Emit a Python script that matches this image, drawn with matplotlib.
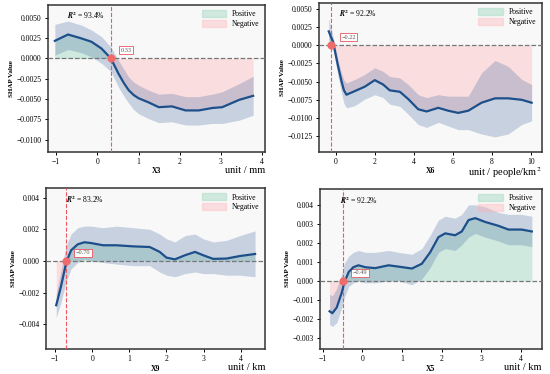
import numpy as np
import matplotlib
matplotlib.use("Agg")
import matplotlib.pyplot as plt
from matplotlib.patches import Patch

plt.rcParams['font.family'] = ['Liberation Serif', 'DejaVu Serif']
plt.rcParams['mathtext.fontset'] = 'stix'

# ---- data (x, mean SHAP, upper / lower band) ----
x3_x = [-1.03, -0.71, -0.38, -0.14, 0.10, 0.33, 0.51, 0.64, 0.76, 0.88, 1.00, 1.24, 1.49,
        1.81, 2.14, 2.46, 2.79, 3.03, 3.44, 3.78]
x3_mean = [0.00217, 0.00295, 0.00246, 0.00205, 0.00123, 0.0, -0.00184, -0.0030, -0.0039,
           -0.0045, -0.0049, -0.0054, -0.0060, -0.0059, -0.0064, -0.0064, -0.0061, -0.0060,
           -0.0051, -0.0046]
x3_up = [0.0042, 0.0046, 0.0041, 0.0035, 0.0027, 0.0014, -0.0002, -0.0013, -0.0023,
         -0.0029, -0.0033, -0.0039, -0.0044, -0.0043, -0.0047, -0.0047, -0.0044, -0.0041,
         -0.0031, -0.0022]
x3_lo = [0.0004, 0.0011, 0.0007, 0.0002, -0.0006, -0.0016, -0.0035, -0.0046, -0.0055,
         -0.0063, -0.0068, -0.0074, -0.0079, -0.0078, -0.0082, -0.0082, -0.0080, -0.0080,
         -0.0076, -0.0070]

x6_x = [-0.36, -0.14, 0.12, 0.29, 0.42, 0.55, 0.98, 1.49, 2.00, 2.43, 2.77, 3.29, 3.72,
        4.23, 4.66, 5.26, 5.77, 6.28, 6.80, 7.48, 8.17, 8.85, 9.54, 10.05]
x6_mean = [0.0019, 0.00046, -0.0029, -0.0049, -0.0062, -0.0068, -0.0063, -0.0057, -0.0048,
           -0.0054, -0.0062, -0.0064, -0.0074, -0.0088, -0.0091, -0.0086, -0.0090,
           -0.0093, -0.0090, -0.0079, -0.0073, -0.0073, -0.0075, -0.0079]
x6_up = [0.0037, 0.0012, -0.0020, -0.0038, -0.0048, -0.0052, -0.0047, -0.0040, -0.0031,
         -0.0036, -0.0043, -0.0045, -0.0054, -0.0068, -0.0072, -0.0068, -0.0070, -0.0070,
         -0.0070, -0.0038, -0.0021, -0.0029, -0.0047, -0.0054]
x6_lo = [0.0008, -0.0004, -0.0043, -0.0065, -0.0080, -0.0086, -0.0083, -0.0074, -0.0068,
         -0.0072, -0.0081, -0.0084, -0.0095, -0.0109, -0.0113, -0.0106, -0.0111, -0.0116,
         -0.0116, -0.0122, -0.0126, -0.0122, -0.0109, -0.0104]

x9_x = [-0.97, -0.84, -0.70, -0.57, -0.39, -0.21, -0.03, 0.29, 0.65, 1.10, 1.55,
        1.82, 2.00, 2.23, 2.50, 2.77, 2.99, 3.26, 3.62, 3.98, 4.39]
x9_mean = [-0.0028, -0.0016, -0.0001, 0.00067, 0.00105, 0.00118, 0.00113, 0.00099,
           0.00099, 0.00092, 0.00088, 0.00057, 0.00021, 0.00010, 0.00036, 0.00057,
           0.00036, 0.00013, 0.00015, 0.00031, 0.00044]
x9_up = [-0.0021, -0.0006, 0.00099, 0.0017, 0.0021, 0.0022, 0.0022, 0.0021, 0.0022,
         0.0021, 0.0020, 0.0017, 0.0014, 0.0012, 0.0016, 0.0017, 0.0014, 0.0012,
         0.0013, 0.0016, 0.0019]
x9_lo = [-0.0036, -0.0026, -0.0013, -0.0005, -0.0001, 0.0001, 0.0, -0.0001, -0.0002,
         -0.0003, -0.0003, -0.0007, -0.0009, -0.0010, -0.0008, -0.0007, -0.0008,
         -0.0008, -0.0009, -0.0009, -0.0010]

x5_x = [-0.83, -0.76, -0.65, -0.52, -0.46, -0.35, -0.23, -0.10, 0.07, 0.32, 0.66,
        0.91, 1.25, 1.50, 1.71, 1.92, 2.09, 2.34, 2.51, 2.68, 2.85, 3.10, 3.43,
        3.69, 4.02, 4.28]
x5_mean = [-0.0016, -0.0017, -0.0014, -0.0006, -0.0001, 0.00046, 0.00072, 0.00082,
           0.00072, 0.00067, 0.00082, 0.00075, 0.00065, 0.0009, 0.0015, 0.0023, 0.0025,
           0.0024, 0.0026, 0.0032, 0.0033, 0.0031, 0.0029, 0.0027, 0.0027, 0.0026]
x5_up = [-0.0007, -0.0008, -0.0004, 0.0004, 0.0009, 0.0013, 0.0015, 0.0016, 0.0015,
         0.0015, 0.0016, 0.0015, 0.0014, 0.0017, 0.0024, 0.0032, 0.0034, 0.0033,
         0.0035, 0.0040, 0.0040, 0.0039, 0.0036, 0.0035, 0.0035, 0.0034]
x5_lo = [-0.0023, -0.0024, -0.0022, -0.0014, -0.0009, -0.0003, -0.0001, 0.0, -0.0001,
         -0.0001, 0.0, 0.0, -0.0002, 0.0001, 0.0007, 0.0015, 0.0017, 0.0016, 0.0019,
         0.0023, 0.0025, 0.0023, 0.0021, 0.0019, 0.0019, 0.0018]

names = ['X3', 'X6', 'X9', 'X5']
units = ['unit / mm', 'unit / people/km$^2$', 'unit / km', 'unit / km']
r2_labels = ['93.4%', '92.2%', '83.2%', '92.2%']
crossings = [0.33, -0.22, -0.70, -0.49]
cross_labels = ['0.33', '\u22120.22', '\u22120.70', '\u22120.49']

series = [(x3_x, x3_mean, x3_up, x3_lo), (x6_x, x6_mean, x6_up, x6_lo),
          (x9_x, x9_mean, x9_up, x9_lo), (x5_x, x5_mean, x5_up, x5_lo)]

positions = [[0.087, 0.594, 0.395, 0.393], [0.580, 0.594, 0.405, 0.398],
             [0.084, 0.067, 0.398, 0.430], [0.582, 0.067, 0.403, 0.428]]
xlims = [(-1.2, 4.07), (-0.86, 10.57), (-1.24, 4.66), (-1.07, 4.53)]
ylims = [(-0.0115, 0.0066), (-0.01465, 0.0058), (-0.00556, 0.0046), (-0.00358, 0.00484)]
unit_y = [-0.125, -0.14, -0.115, -0.115]

pos_col = '#a8dcc5'
neg_col = '#ffb3b8'

fig = plt.figure(figsize=(5.5, 3.74), dpi=100)

for i in range(4):
    ax = fig.add_axes(positions[i])
    x, m, up, lo = [np.array(a) for a in series[i]]
    ax.set_facecolor('#f8f8f8')

    ax.fill_between(x, 0, m, where=m >= 0, interpolate=True, color=pos_col, alpha=0.5, lw=0)
    ax.fill_between(x, 0, m, where=m <= 0, interpolate=True, color=neg_col, alpha=0.38, lw=0)
    ax.fill_between(x, lo, up, color='#4a6fa5', alpha=0.28, lw=0)
    ax.plot(x, m, color='#1d4f8a', lw=1.6, zorder=4)

    ax.axhline(0, color='#777777', ls='--', lw=0.9, zorder=3)
    ax.axvline(crossings[i], color='#ee5a62', ls='--', lw=0.8, zorder=3)
    ax.scatter([crossings[i]], [0], s=24, color='#f06b6b', zorder=5)
    ax.annotate(cross_labels[i], xy=(crossings[i], 0), xytext=(7, 4),
                textcoords='offset points', fontsize=4.5, color='#555555',
                ha='left', va='bottom',
                bbox=dict(boxstyle='square,pad=0.25', fc='white', ec='#e8555f', lw=0.6))

    ax.text(0.09, 0.93, r'$\mathbfit{R}^{\mathbf{2}}$ = ' + r2_labels[i],
            transform=ax.transAxes, fontsize=5.5, va='center', ha='left')

    ax.set_xlim(*xlims[i])
    ax.set_ylim(*ylims[i])
    ax.tick_params(labelsize=5.5, length=2.5, width=0.7, pad=2)
    for s in ax.spines.values():
        s.set_linewidth(1.1)
        s.set_color('#333333')

    ax.set_xlabel(names[i], fontsize=5.5, fontweight='bold', labelpad=1)
    ax.set_ylabel('SHAP Value', fontsize=5, fontweight='bold', labelpad=2)
    ax.text(1.0, unit_y[i], units[i], transform=ax.transAxes, ha='right', va='center',
            fontsize=7.5)

    handles = [Patch(color=pos_col, alpha=0.5, label='Positive'),
               Patch(color=neg_col, alpha=0.38, label='Negative')]
    ax.legend(handles=handles, loc='upper right', frameon=False, fontsize=5.5,
              handlelength=3.2, handleheight=1.0, borderaxespad=0.3, labelspacing=0.2)

fig.savefig('out.png', dpi=100)
